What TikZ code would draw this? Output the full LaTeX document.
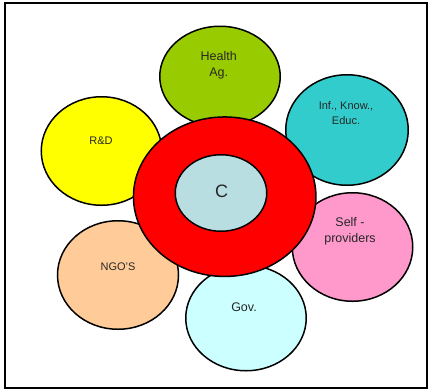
\documentclass[tikz,border=0pt]{standalone}
\usepackage{fontspec}
\setsansfont{Liberation Sans}
\usepackage{tikz}
\usetikzlibrary{shapes.geometric}
\tikzstyle{every picture}+=[font=\sffamily]

\definecolor{healthgreen}{RGB}{153,204,0}
\definecolor{infteal}{RGB}{51,204,204}
\definecolor{rdyellow}{RGB}{255,255,0}
\definecolor{ngopeach}{RGB}{255,204,153}
\definecolor{govcyan}{RGB}{204,255,255}
\definecolor{selfpink}{RGB}{255,153,204}
\definecolor{corered}{RGB}{255,0,0}
\definecolor{coreblue}{RGB}{185,222,226}

\begin{document}
\begin{tikzpicture}
		[x=1pt, y=-1pt, font=\sffamily, inner sep=0pt,
		petal/.style={ellipse, draw=black, line width=1.5pt, inner sep=0pt},
		lbl/.style={align=center, text=black!85},
		small/.style={font=\sffamily\fontsize{11}{15}\selectfont},
		big/.style={font=\sffamily\fontsize{12.5}{16}\selectfont}]
		
		\useasboundingbox (0, 0) rectangle (428, 389);
		\draw[line width=2pt]	(5.3, 2.7) rectangle (426.7, 388.3);
		
		% Health petal -------------------------------------------
		\node[petal, fill=healthgreen, minimum width=120.5pt, minimum height=100.5pt]
			(health) at (220, 76.5) {};
		\node[lbl, big] (healthtxt) at (218.7, 65) {Health\\Ag.};
		
		% Inf petal ----------------------------------------------
		\node[petal, fill=infteal, minimum width=122.5pt, minimum height=110.5pt]
			(inf) at (347, 130) {};
		\node[lbl, small] (inftxt) at (346, 113.5) {Inf., Know.,\\Educ.};
		
		% R&D petal ----------------------------------------------
		\node[petal, fill=rdyellow, minimum width=120.5pt, minimum height=108.5pt]
			(rd) at (101.5, 151) {};
		\node[lbl, small] (rdtxt) at (101, 141) {R\&D};
		
		% NGO petal ----------------------------------------------
		\node[petal, fill=ngopeach, minimum width=121pt, minimum height=108.5pt]
			(ngo) at (118, 275) {};
		\node[lbl, small] (ngotxt) at (118, 267) {NGO'S};
		
		% Gov petal ----------------------------------------------
		\node[petal, fill=govcyan, minimum width=120.5pt, minimum height=105.5pt]
			(gov) at (246, 318) {};
		\node[lbl, big] (govtxt) at (244, 307) {Gov.};
		
		% Self petal ---------------------------------------------
		\node[petal, fill=selfpink, minimum width=120.5pt, minimum height=108.5pt]
			(self) at (352.5, 247) {};
		\node[lbl, big] (selftxt) at (350, 231) {Self -\\providers};
		
		% core ---------------------------------------------------
		\node[petal, fill=corered, minimum width=182.5pt, minimum height=159.5pt]
			(ring) at (224.7, 196.7) {};
		\node[petal, fill=coreblue, minimum width=91.5pt, minimum height=76.5pt]
			(core) at (221, 193) {};
		\node[lbl, font=\sffamily\fontsize{18}{20}\selectfont] (coretxt) at (221.7, 191.7) {C};
		\end{tikzpicture}
\end{document}
